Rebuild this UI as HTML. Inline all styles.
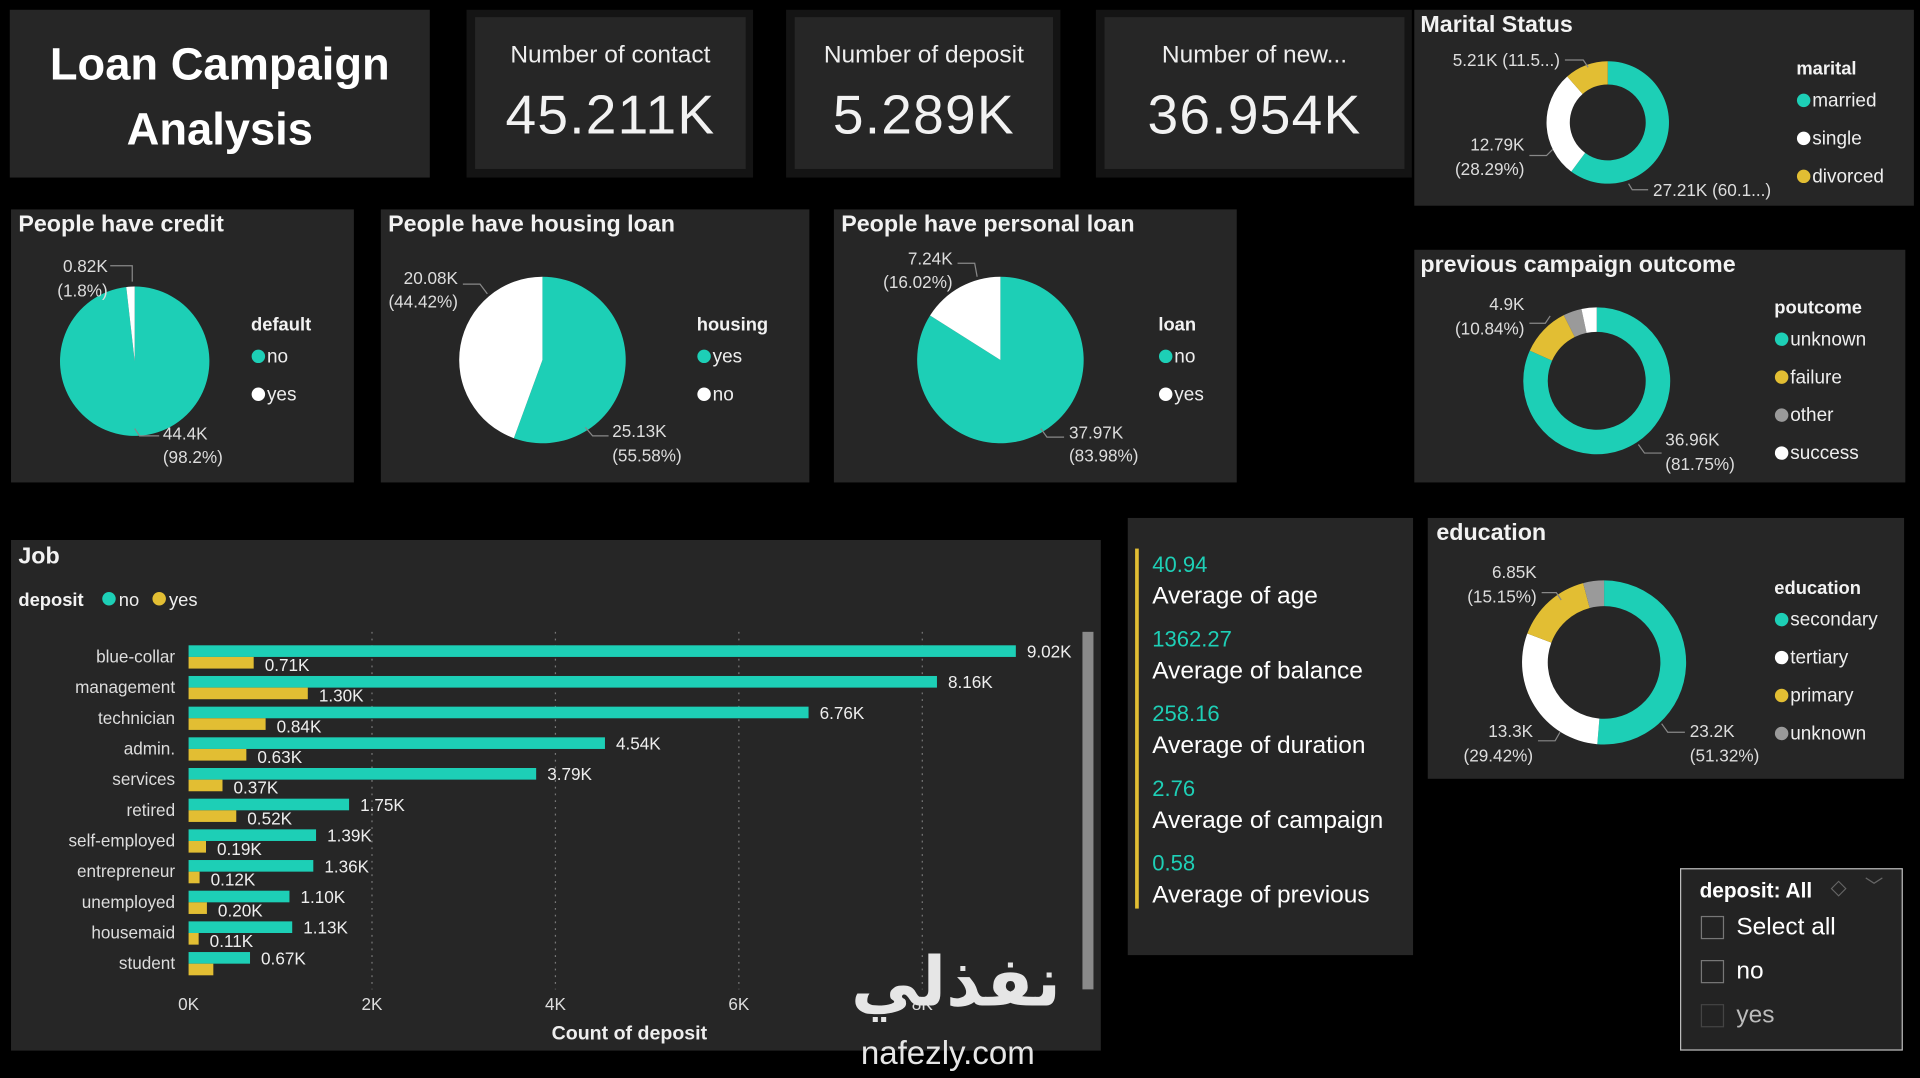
<!DOCTYPE html>
<html><head><meta charset="utf-8">
<style>
html,body{margin:0;padding:0;background:#000;width:1920px;height:1078px;overflow:hidden}
#root{position:absolute;left:0;top:0;width:1568px;height:880px;transform:scale(1.22449);transform-origin:0 0;font-family:"Liberation Sans","DejaVu Sans",sans-serif;color:#fff}
.p{position:absolute;background:#262626}
.t{position:absolute;white-space:nowrap}
.ttl{font-size:19px;font-weight:bold;color:#f2f2f2}
.lbl{font-size:20px;color:#eee;text-align:center;width:100%}
.val{font-size:45px;color:#f2f2f2;text-align:center;width:100%;letter-spacing:1px}
svg text{font-family:"Liberation Sans","DejaVu Sans",sans-serif}
</style></head><body>
<div id="root">
 <div class="p" style="left:8px;top:8px;width:343px;height:137px;background:#262626">
  <div class="t" style="left:0;top:18px;width:343px;text-align:center;font-size:37px;font-weight:bold;line-height:53px;white-space:normal">Loan Campaign<br>Analysis</div>
 </div>
 <div class="p" style="left:381px;top:8px;width:234px;height:137px;background:#141414"></div>
 <div class="p" style="left:388px;top:14px;width:221px;height:124px">
  <div class="t lbl" style="top:20px">Number of contact</div>
  <div class="t val" style="top:54px">45.211K</div>
 </div>
 <div class="p" style="left:642px;top:8px;width:224px;height:137px;background:#141414"></div>
 <div class="p" style="left:649px;top:14px;width:211px;height:124px">
  <div class="t lbl" style="top:20px">Number of deposit</div>
  <div class="t val" style="top:54px">5.289K</div>
 </div>
 <div class="p" style="left:895px;top:8px;width:258px;height:137px;background:#141414"></div>
 <div class="p" style="left:902px;top:14px;width:245px;height:124px">
  <div class="t lbl" style="top:20px">Number of new...</div>
  <div class="t val" style="top:54px">36.954K</div>
 </div>

 <div class="p" style="left:1155px;top:8px;width:408px;height:160px"></div>
 <div class="p" style="left:9px;top:171px;width:280px;height:223px"></div>
 <div class="p" style="left:311px;top:171px;width:350px;height:223px"></div>
 <div class="p" style="left:681px;top:171px;width:329px;height:223px"></div>
 <div class="p" style="left:1155px;top:204px;width:401px;height:190px"></div>
 <div class="p" style="left:9px;top:441px;width:890px;height:417px"></div>
 <div class="p" style="left:921px;top:423px;width:233px;height:357px">
  <div style="position:absolute;left:6px;top:25px;width:3px;height:294px;background:#e2be33"></div>
  <div class="t" style="left:20px;top:28px;font-size:18px;color:#1ecfb6">40.94</div>
  <div class="t" style="left:20px;top:53px;font-size:20px">Average of age</div>
  <div class="t" style="left:20px;top:89px;font-size:18px;color:#1ecfb6">1362.27</div>
  <div class="t" style="left:20px;top:114px;font-size:20px">Average of balance</div>
  <div class="t" style="left:20px;top:150px;font-size:18px;color:#1ecfb6">258.16</div>
  <div class="t" style="left:20px;top:175px;font-size:20px">Average of duration</div>
  <div class="t" style="left:20px;top:211px;font-size:18px;color:#1ecfb6">2.76</div>
  <div class="t" style="left:20px;top:236px;font-size:20px">Average of campaign</div>
  <div class="t" style="left:20px;top:272px;font-size:18px;color:#1ecfb6">0.58</div>
  <div class="t" style="left:20px;top:297px;font-size:20px">Average of previous</div>
 </div>
 <div class="p" style="left:1166px;top:423px;width:389px;height:213px"></div>

 <div class="p" style="left:1372px;top:709px;width:180px;height:147px;border:1px solid #bbb;background:#232323">
  <div class="t" style="left:15px;top:8px;font-size:17px;font-weight:bold">deposit: All</div>
  <div class="t" style="left:122px;top:5px;font-size:17px;color:#666">◇</div>
  <div class="t" style="left:150px;top:3px;font-size:15px;color:#666">﹀</div>
  <div style="position:absolute;left:16px;top:38px;width:17px;height:17px;border:1px solid #777"></div>
  <div class="t" style="left:45px;top:36px;font-size:20px">Select all</div>
  <div style="position:absolute;left:16px;top:74px;width:17px;height:17px;border:1px solid #777"></div>
  <div class="t" style="left:45px;top:72px;font-size:20px">no</div>
  <div style="position:absolute;left:16px;top:110px;width:17px;height:17px;border:1px solid #444"></div>
  <div class="t" style="left:45px;top:108px;font-size:20px;color:#bbb">yes</div>
 </div>

 <svg id="chart" width="1568" height="880" style="position:absolute;left:0;top:0"></svg>

 <div class="t" style="left:695px;top:770px;font-size:56px;font-weight:bold;color:#e6e6e6;font-family:'DejaVu Sans',sans-serif">نفذلي</div>
 <div class="t" style="left:703px;top:845px;font-size:27px;color:#e6e6e6">nafezly.com</div>
</div>
<script>
const TEAL='#1dcfb6', YEL='#e2be33', WHITE='#ffffff', GRAY='#9a9a9a';
// Job chart data
const jobCats=['blue-collar','management','technician','admin.','services','retired','self-employed','entrepreneur','unemployed','housemaid','student'];
const jobNo=[9.02,8.16,6.76,4.54,3.79,1.75,1.39,1.36,1.10,1.13,0.67];
const jobYes=[0.71,1.30,0.84,0.63,0.37,0.52,0.19,0.12,0.20,0.11,0.27];
const jobNoLabels=['9.02K','8.16K','6.76K','4.54K','3.79K','1.75K','1.39K','1.36K','1.10K','1.13K','0.67K'];
const jobYesLabels=['0.71K','1.30K','0.84K','0.63K','0.37K','0.52K','0.19K','0.12K','0.20K','0.11K',''];
const xTicks=[0,2,4,6,8];
const xTickLabels=['0K','2K','4K','6K','8K'];
// pies
const creditVals=[98.2,1.8];
const housingVals=[55.58,44.42];
const personalVals=[83.98,16.02];
const maritalVals=[60.1,28.29,11.5];
const poutVals=[81.75,10.84,4.07,3.34];
const eduVals=[51.32,29.42,15.15,4.11];

const svg=document.getElementById('chart');
const NS='http://www.w3.org/2000/svg';
function mk(tag,attrs,parent){const e=document.createElementNS(NS,tag);for(const k in attrs)e.setAttribute(k,attrs[k]);(parent||svg).appendChild(e);return e;}
function txt(s,x,y,size,fill,anchor,weight){const e=mk('text',{x:x,y:y,'font-size':size,fill:fill||'#eee','text-anchor':anchor||'start','font-weight':weight||'normal'});e.textContent=s;return e;}

// Job chart
const x0=154, kpx=74.9;
const xs=v=>x0+v*kpx;
const rowY=i=>536+i*25.05;
const g=mk('g',{});


let t=txt('Job',15,460,19,'#f2f2f2','start','bold');


t=txt('deposit',15,495,15,'#f2f2f2','start','bold');


let c=mk('circle',{cx:89,cy:489,r:5.5,fill:TEAL});


txt('no',97,495,15);
c=mk('circle',{cx:130,cy:489,r:5.5,fill:YEL});


txt('yes',138,495,15);
xTicks.forEach((v,i)=>{
  if(i>0){const l=mk('line',{x1:xs(v),x2:xs(v),y1:516,y2:808,stroke:'#777','stroke-width':1,'stroke-dasharray':'1.5,4'},g);
  
  }
  const tl=txt(xTickLabels[i],xs(v),825,14,'#ddd','middle');
  
  
});
t=txt('Count of deposit',514,849,16,'#eee','middle','bold');


jobCats.forEach((cat,i)=>{
  const cy=rowY(i);
  const cl=txt(cat,143,cy+5,14,'#ddd','end');
  
  
  const b1=mk('rect',{x:x0,y:cy-9,width:xs(jobNo[i])-x0,height:9.5,fill:TEAL},g);
  
  
  const b2=mk('rect',{x:x0,y:cy+0.5,width:xs(jobYes[i])-x0,height:9.5,fill:YEL},g);
  
  
  const l1=txt(jobNoLabels[i],xs(jobNo[i])+9,cy+1,14,'#eee');
  
  
  const l2=txt(jobYesLabels[i],xs(jobYes[i])+9,cy+12,14,'#eee');
  
  
});
const sb=mk('rect',{x:884,y:516,width:9,height:292,fill:'#8a8a8a'});



// pie/donut helper
function pt(cx,cy,r,a){return [cx+r*Math.sin(a),cy-r*Math.cos(a)];}
function drawPie(name,cx,cy,R,r,vals,colors){
  const tot=vals.reduce((a,b)=>a+b,0);let a=0;
  vals.forEach((v,i)=>{
    const a2=a+v/tot*2*Math.PI;const large=(a2-a)>Math.PI?1:0;
    const p1=pt(cx,cy,R,a),p2=pt(cx,cy,R,a2);let d;
    if(r>0){const p3=pt(cx,cy,r,a2),p4=pt(cx,cy,r,a);
      d=`M${p1[0]},${p1[1]}A${R},${R} 0 ${large} 1 ${p2[0]},${p2[1]}L${p3[0]},${p3[1]}A${r},${r} 0 ${large} 0 ${p4[0]},${p4[1]}Z`;}
    else d=`M${cx},${cy}L${p1[0]},${p1[1]}A${R},${R} 0 ${large} 1 ${p2[0]},${p2[1]}Z`;
    const s=mk('path',{d:d,fill:colors[i]});
    
    
    a=a2;
  });
}
function leader(pts){mk('polyline',{points:pts,fill:'none',stroke:'#888','stroke-width':1});}
function legend(name,x,y,title,items,colors,gap){
  const lt=txt(title,x,y,15,'#f2f2f2','start','bold');
  
  
  items.forEach((it,i)=>{const yy=y+26+i*gap;
    const m=mk('circle',{cx:x+6,cy:yy-5,r:5.5,fill:colors[i]});
    
    
    const e=txt(it,x+13,yy,15.5,'#eee');
    
    });
}
function title(s,x,y,name){const e=txt(s,x,y,19,'#f2f2f2','start','bold');}

// credit
title('People have credit',15,189,'credit-title');
drawPie('credit',110,295,61,0,creditVals,[TEAL,WHITE]);
txt('0.82K',88,222,14,'#ddd','end');txt('(1.8%)',88,242,14,'#ddd','end');
leader('90,217 108,217 108,230');
txt('44.4K',133,359,14,'#ddd');txt('(98.2%)',133,378,14,'#ddd');
leader('130,356 114,356 110,350');
legend('credit',205,270,'default',['no','yes'],[TEAL,WHITE],31);
// housing
title('People have housing loan',317,189,'housing-title');
drawPie('housing',443,294,68,0,housingVals,[TEAL,WHITE]);
txt('20.08K',374,232,14,'#ddd','end');txt('(44.42%)',374,251,14,'#ddd','end');
leader('378,232 392,232 398,240');
txt('25.13K',500,357,14,'#ddd');txt('(55.58%)',500,377,14,'#ddd');
leader('497,356 484,356 478,349');
legend('housing',569,270,'housing',['yes','no'],[TEAL,WHITE],31);
// personal
title('People have personal loan',687,189,'personal-title');
drawPie('personal',817,294,68,0,personalVals,[TEAL,WHITE]);
txt('7.24K',778,216,14,'#ddd','end');txt('(16.02%)',778,235,14,'#ddd','end');
leader('782,215 796,215 798,226');
txt('37.97K',873,358,14,'#ddd');txt('(83.98%)',873,377,14,'#ddd');
leader('869,357 855,357 850,350');
legend('personal',946,270,'loan',['no','yes'],[TEAL,WHITE],31);
// marital
title('Marital Status',1160,26,'marital-title');
drawPie('marital',1313,100,50,31,maritalVals,[TEAL,WHITE,YEL]);
txt('5.21K (11.5...)',1274,54,14,'#ddd','end');leader('1278,49 1293,49 1297,55');
txt('12.79K',1245,123,14,'#ddd','end');txt('(28.29%)',1245,143,14,'#ddd','end');leader('1249,127 1263,127 1268,122');
txt('27.21K (60.1...)',1350,160,14,'#ddd');leader('1346,155 1333,155 1330,150');
legend('marital',1467,61,'marital',['married','single','divorced'],[TEAL,WHITE,YEL],31);
// poutcome
title('previous campaign outcome',1160,222,'poutcome-title');
drawPie('poutcome',1304,311,60,40,poutVals,[TEAL,YEL,GRAY,WHITE]);
txt('4.9K',1245,253,14,'#ddd','end');txt('(10.84%)',1245,273,14,'#ddd','end');leader('1249,264 1262,264 1266,258');
txt('36.96K',1360,364,14,'#ddd');txt('(81.75%)',1360,384,14,'#ddd');leader('1357,370 1343,370 1338,363');
legend('poutcome',1449,256,'poutcome',['unknown','failure','other','success'],[TEAL,YEL,GRAY,WHITE],31);
// education
title('education',1173,441,'education-title');
drawPie('education',1310,541,67,46,eduVals,[TEAL,WHITE,YEL,GRAY]);
txt('6.85K',1255,472,14,'#ddd','end');txt('(15.15%)',1255,492,14,'#ddd','end');leader('1259,484 1271,484 1275,490');
txt('13.3K',1252,602,14,'#ddd','end');txt('(29.42%)',1252,622,14,'#ddd','end');leader('1256,605 1270,605 1274,598');
txt('23.2K',1380,602,14,'#ddd');txt('(51.32%)',1380,613+9,14,'#ddd');leader('1376,598 1362,598 1357,591');
legend('education',1449,485,'education',['secondary','tertiary','primary','unknown'],[TEAL,WHITE,YEL,GRAY],31);
</script>
</body></html>
